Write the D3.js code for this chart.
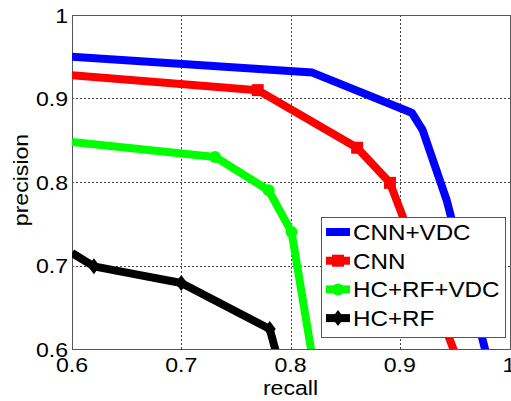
<!DOCTYPE html>
<html lang="en">
<head>
<meta charset="utf-8">
<style>
  body { margin: 0; background: #fff; }
  svg text { font-family: "Liberation Sans", Arial, sans-serif; fill: #000; }
  .grid line { stroke: #444; stroke-width: 1; stroke-dasharray: 2,2; }
  .curve { fill: none; stroke-width: 8; stroke-linejoin: round; }
</style>
<script src="https://cdnjs.cloudflare.com/ajax/libs/d3/7.8.5/d3.min.js"></script>
</head>
<body>
<svg width="511" height="401"></svg>
<script>
// series: [recall, precision]
var cnnVdc = [[0.6, 0.95], [0.82, 0.931], [0.911, 0.883], [0.921, 0.862], [0.943, 0.778], [0.98, 0.59]];
var cnn = [[0.6, 0.928], [0.77, 0.91], [0.861, 0.841], [0.891, 0.799], [0.952, 0.59]];
var hcRfVdc = [[0.6, 0.848], [0.731, 0.83], [0.78, 0.79], [0.801, 0.74], [0.82, 0.59]];
var hcRf = [[0.6, 0.715], [0.62, 0.699], [0.70, 0.679], [0.781, 0.624], [0.788, 0.59]];

var markersCnn = cnn.slice(1, 4);
var markersHcRfVdc = hcRfVdc.slice(1, 4);
var markersHcRf = hcRf.slice(1, 4);

var seriesNames = ["CNN+VDC", "CNN", "HC+RF+VDC", "HC+RF"];
var seriesColors = ["#0000ff", "#ff0000", "#00ff00", "#000000"];
var seriesMarkers = ["none", "square", "circle", "diamond"];

var xTicks = [0.6, 0.7, 0.8, 0.9, 1];
var yTicks = [0.6, 0.7, 0.8, 0.9, 1];

var svg = d3.select("svg");
var mLeft = 72, mRight = 510, mTop = 15, mBottom = 349;
var sx = 1.1; // the source text is a bit wide

var x = d3.scaleLinear().domain([0.6, 1]).range([mLeft, mRight - 1]);
var y = d3.scaleLinear().domain([0.6, 1]).range([mBottom, mTop]);

svg.append("clipPath").attr("id", "plot")
  .append("rect").attr("x", mLeft).attr("y", mTop)
  .attr("width", mRight - mLeft).attr("height", mBottom - mTop);

// grid
var grid = svg.append("g").attr("class", "grid");
grid.selectAll(".gx").data(xTicks.slice(1, 4)).enter().append("line")
  .attr("x1", function(d) { return Math.round(x(d)) + 0.5; })
  .attr("x2", function(d) { return Math.round(x(d)) + 0.5; })
  .attr("y1", mTop).attr("y2", mBottom);
grid.selectAll(".gy").data(yTicks.slice(1, 4)).enter().append("line")
  .attr("y1", function(d) { return Math.round(y(d)) + 0.5; })
  .attr("y2", function(d) { return Math.round(y(d)) + 0.5; })
  .attr("x1", mLeft).attr("x2", mRight);

// box
svg.append("rect")
  .attr("x", mLeft + 0.5).attr("y", mTop + 0.5)
  .attr("width", mRight - mLeft).attr("height", mBottom - mTop)
  .attr("fill", "none").attr("stroke", "#555").attr("stroke-width", 1);

var line = d3.line()
  .x(function(d) { return x(d[0]); })
  .y(function(d) { return y(d[1]); });

var data = [cnnVdc, cnn, hcRfVdc, hcRf];
var markerData = [[], markersCnn, markersHcRfVdc, markersHcRf];

function marker(g, type, color, cx, cy) {
  if (type === "square") {
    g.append("rect").attr("x", cx - 6).attr("y", cy - 6).attr("width", 12).attr("height", 12).attr("fill", color);
  } else if (type === "circle") {
    g.append("circle").attr("cx", cx).attr("cy", cy).attr("r", 6).attr("fill", color);
  } else if (type === "diamond") {
    g.append("path").attr("d", "M" + cx + "," + (cy - 8) + "L" + (cx + 6) + "," + cy + "L" + cx + "," + (cy + 8) + "L" + (cx - 6) + "," + cy + "Z").attr("fill", color);
  }
}

var plot = svg.append("g").attr("clip-path", "url(#plot)");
for (var i = data.length - 1; i >= 0; i--) {
  plot.append("path").attr("class", "curve")
    .attr("d", line(data[i]))
    .attr("stroke", seriesColors[i]);
  markerData[i].forEach(function(p) {
    marker(plot, seriesMarkers[i], seriesColors[i], x(p[0]), y(p[1]));
  });
}

function label(px, py, str, size, anchor, rot) {
  return svg.append("text")
    .attr("transform", "translate(" + px + "," + py + ")" + (rot ? " rotate(" + rot + ")" : "") + " scale(" + sx + ",1)")
    .attr("text-anchor", anchor)
    .attr("font-size", size)
    .text(str);
}

function fmt(d) { return d === 1 ? "1" : d.toFixed(1); }

// tick labels
xTicks.forEach(function(d) { label(x(d), 372, fmt(d), 21, "middle"); });
yTicks.forEach(function(d) { label(68, y(d) + 7.5, fmt(d), 21, "end"); });

label(x(0.8), 395, "recall", 21, "middle");
label(28, 180, "precision", 21, "middle", -90);

// legend
var lg = svg.append("g");
lg.append("rect")
  .attr("x", 321.5).attr("y", 217.5).attr("width", 184).attr("height", 120)
  .attr("fill", "#fff").attr("stroke", "#555");
seriesNames.forEach(function(name, i) {
  var cy = 232 + i * 28.7;
  lg.append("line").attr("x1", 326).attr("x2", 350)
    .attr("y1", cy).attr("y2", cy)
    .attr("stroke", seriesColors[i]).attr("stroke-width", 8);
  marker(lg, seriesMarkers[i], seriesColors[i], 338, cy);
  lg.append("text")
    .attr("transform", "translate(353," + (cy + 8) + ") scale(" + sx + ",1)")
    .attr("font-size", 22).text(name);
});
</script>
</body>
</html>
